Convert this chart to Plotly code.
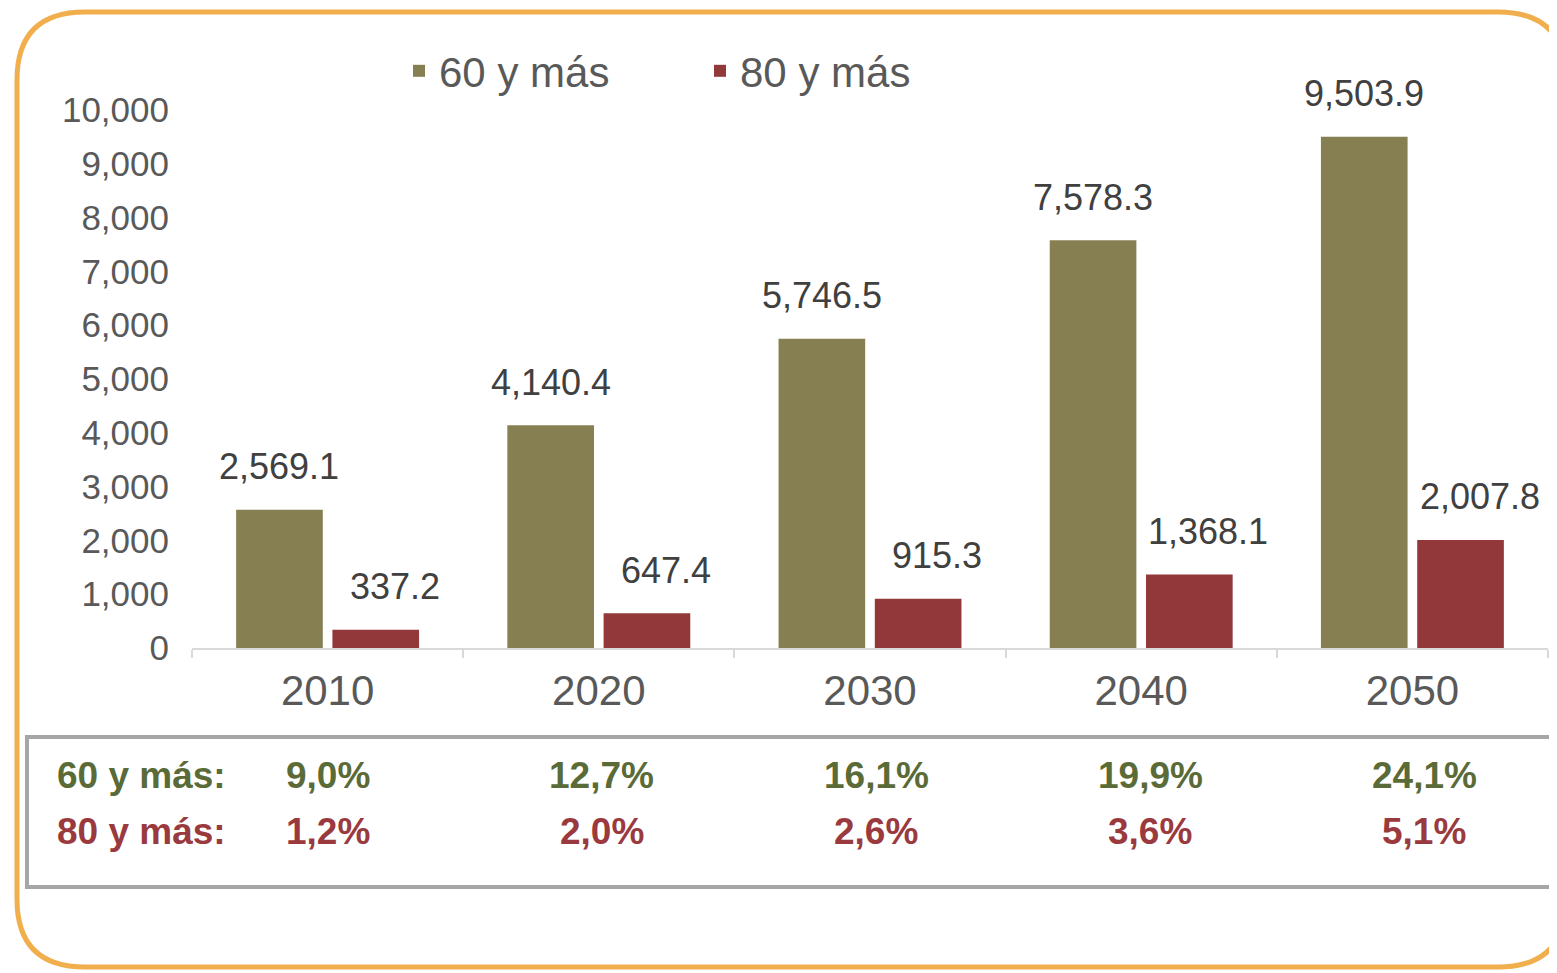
import plotly.graph_objects as go

# ---- data ----
years = ["2010", "2020", "2030", "2040", "2050"]
series_names = ["60 y más", "80 y más"]
pop60 = [2569.1, 4140.4, 5746.5, 7578.3, 9503.9]
pop80 = [337.2, 647.4, 915.3, 1368.1, 2007.8]
pct60 = ["9,0%", "12,7%", "16,1%", "19,9%", "24,1%"]
pct80 = ["1,2%", "2,0%", "2,6%", "3,6%", "5,1%"]
ytick_vals = [0, 1000, 2000, 3000, 4000, 5000, 6000, 7000, 8000, 9000, 10000]

# ---- style ----
W, H = 1557, 973
OFF = 8  # page body margin
L, R, T, B = 192 - OFF, 1548 - OFF, 110 - OFF, 648 - OFF
PW, PH = R - L, B - T
C60 = "#867F52"
C80 = "#92383A"
T60 = "#5A6B37"
T80 = "#9A3A3E"
FONT = "Arial, Liberation Sans, sans-serif"
BARGAP = 0.29
SLOT = (1 - BARGAP) * PW / len(years) / 2


def px_x(px):
    return (px - OFF - L) / PW


def px_y(py):
    return (B - (py - OFF)) / PH


fig = go.Figure()
fig.add_trace(go.Bar(x=years, y=pop60, name=series_names[0], marker=dict(color=C60, line=dict(width=0))))
fig.add_trace(go.Bar(x=years, y=pop80, name=series_names[1], marker=dict(color=C80, line=dict(width=0))))

annotations = []
# data labels (category index positions on the category axis)
for vals, shift in ((pop60, -SLOT / 2), (pop80, SLOT / 2 + 19)):
    for i, v in enumerate(vals):
        annotations.append(dict(
            x=i, y=v, xref="x", yref="y", text=f"{v:,.1f}", showarrow=False,
            xshift=shift, yshift=43, yanchor="middle", xanchor="center",
            font=dict(family=FONT, size=36, color="#404040")))

# table rows
for label, vals, col, py in ((series_names[0], pct60, T60, 776), (series_names[1], pct80, T80, 831)):
    annotations.append(dict(
        x=px_x(55), y=px_y(py), xref="paper", yref="paper", text=f"<b>{label}:</b>",
        showarrow=False, xanchor="left", yanchor="middle",
        font=dict(family=FONT, size=37, color=col)))
    for i, t in enumerate(vals):
        annotations.append(dict(
            x=i, y=px_y(py), xref="x", yref="paper", text=f"<b>{t}</b>",
            showarrow=False, xanchor="center", yanchor="middle", xshift=3 * i,
            font=dict(family=FONT, size=37, color=col)))


def frame_path(x0, y0, x1, y1, r):
    pts = [
        ("M", x0, y0 + r), ("Q", x0, y0, x0 + r, y0), ("L", x1 - r, y0),
        ("Q", x1, y0, x1, y0 + r), ("L", x1, y1 - r), ("Q", x1, y1, x1 - r, y1),
        ("L", x0 + r, y1), ("Q", x0, y1, x0, y1 - r),
    ]
    s = ""
    for p in pts:
        cmd = p[0]
        coords = p[1:]
        parts = []
        for i in range(0, len(coords), 2):
            parts.append(f"{px_x(coords[i]):.5f},{px_y(coords[i + 1]):.5f}")
        s += cmd + " " + " ".join(parts) + " "
    return s + "Z"


shapes = [
    dict(type="path", xref="paper", yref="paper", path=frame_path(17, 12, 1566, 967, 68),
         line=dict(color="#F1AE4C", width=5), layer="below"),
    dict(type="rect", xref="paper", yref="paper", x0=px_x(27), x1=px_x(1600), y0=px_y(737), y1=px_y(887),
         line=dict(color="#A6A6A6", width=4), layer="below"),
]

fig.update_layout(
    width=W, height=H,
    margin=dict(l=L, r=W - R, t=T, b=H - B, autoexpand=False),
    paper_bgcolor="white", plot_bgcolor="white",
    barmode="group", bargap=BARGAP, bargroupgap=0.1,
    font=dict(family=FONT, color="#595959"),
    legend=dict(orientation="h", x=px_x(399), y=px_y(71), xanchor="left", yanchor="middle",
                font=dict(family=FONT, size=42, color="#595959"), entrywidth=256, entrywidthmode="pixels",
                bgcolor="rgba(0,0,0,0)"),
    annotations=annotations,
    shapes=shapes,
    xaxis=dict(type="category", range=[-0.5, len(years) - 0.5], autorange=False,
               showline=True, linecolor="#D9D9D9", linewidth=2,
               ticks="outside", tickson="boundaries", ticklen=8, tickcolor="#D9D9D9", tickwidth=2,
               tickangle=0, ticklabelstandoff=5,
               tickfont=dict(family=FONT, size=42, color="#595959"), showgrid=False, zeroline=False),
    yaxis=dict(range=[0, 10000], autorange=False, tickvals=ytick_vals, tickformat=",", showgrid=False,
               zeroline=False, showline=False, ticks="outside", ticklen=15, tickcolor="rgba(0,0,0,0)",
               tickfont=dict(family=FONT, size=35, color="#595959")),
)

fig.write_html("out.html")
